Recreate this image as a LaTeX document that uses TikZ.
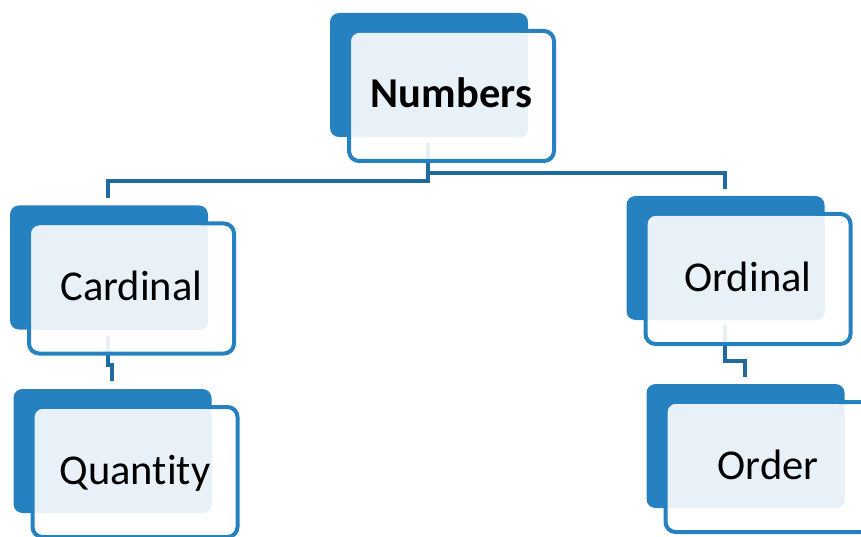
\documentclass[tikz,border=0pt]{standalone}
\usepackage{fontspec}
\setmainfont[Ligatures=NoCommon]{Carlito}
\pgfdeclarelayer{background}
\pgfsetlayers{background,main}
\definecolor{boxblue}{HTML}{2681C0}
\definecolor{panelblue}{HTML}{E8F0F8}
\definecolor{linkblue}{HTML}{1F6A9E}

% one box: name, x, y (centre of the outline), text
\newcommand{\numbox}[4]{%
  \fill[boxblue, rounded corners=9] (#2-121.5,#3-83) rectangle (#2+76.5,#3+41);
  \node[outbox] (#1) at (#2,#3) {};
  \fill[panelblue, rounded corners=8] (#2-100,#3-63) rectangle (#2+76.5,#3+41);
  \node[lbl] (#1-t) at ([shift={(0,12)}]#1.center) {#4};
}

\begin{document}
\begin{tikzpicture}[x=1pt, y=-1pt,
  outbox/.style={draw=boxblue, line width=4, fill=white, fill opacity=0.9,
    rounded corners=10, minimum width=205, minimum height=130, inner sep=0},
  lbl/.style={font=\fontsize{42.5}{50}\selectfont, anchor=base, inner sep=0},
  link/.style={draw=linkblue, line width=4}]
\useasboundingbox (0,0) rectangle (861,537);
\clip (0,0) rectangle (861,537);

\numbox{num}{451.5}{96}{\textbf{Numbers}}
\numbox{card}{131.5}{288.5}{Cardinal}
\numbox{ord}{748}{279}{Ordinal}
\numbox{qty}{135}{472}{Quantity}
\numbox{ordr}{768}{467}{Order}

\begin{pgfonlayer}{background}
\draw[link] ([shift={(-23.5,-20)}]num.south) |- ([shift={(-23.5,-40)}]card.north)
  -- ([shift={(-23.5,-23)}]card.north);
\draw[link] ([shift={(-23.5,-20)}]num.south) |- ([shift={(-23,-39)}]ord.north)
  -- ([shift={(-23,-23)}]ord.north);
\draw[link] ([shift={(-23.5,-20)}]card.south) |- ([shift={(-23,-40)}]qty.north)
  -- ([shift={(-23,-24)}]qty.north);
\draw[link] ([shift={(-23,-21)}]ord.south) |- ([shift={(-23,-39)}]ordr.north)
  -- ([shift={(-23,-23)}]ordr.north);
\end{pgfonlayer}

\end{tikzpicture}
\end{document}
